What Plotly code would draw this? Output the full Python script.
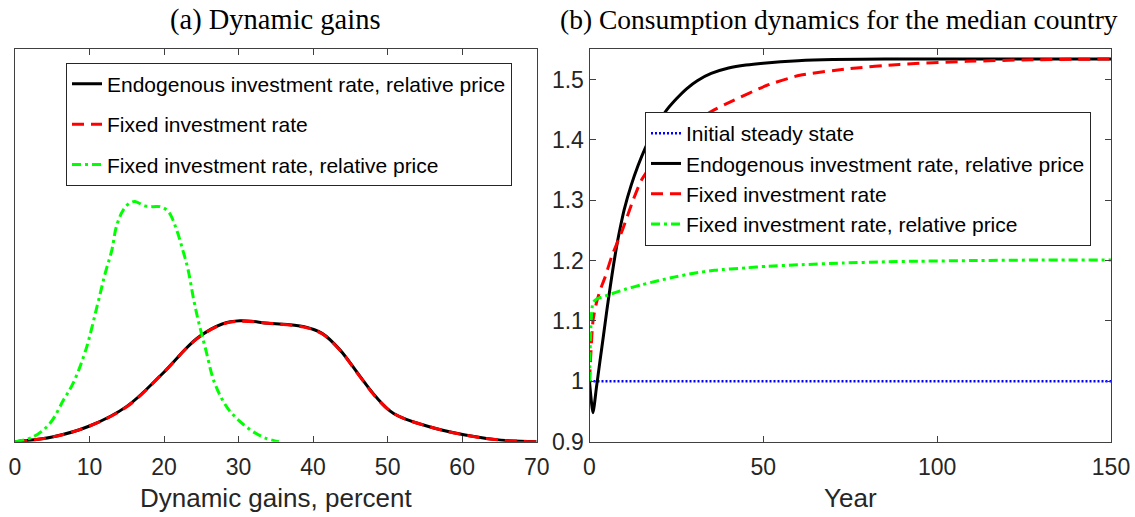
import plotly.graph_objects as go

# ---------------- Panel (a): densities of dynamic gains ----------------
gain_endog_x = [0, 5, 10, 15, 19.6, 24.4, 27.8, 30.2, 34.0, 38.8, 41.2, 43.6, 46.0, 48.4, 50.8, 55.6, 60.4, 65.2, 70]
gain_endog_y = [0, 0.0012, 0.0040, 0.0090, 0.0170, 0.0263, 0.0300, 0.0308, 0.0302, 0.0293, 0.0276, 0.0234, 0.0174, 0.0115, 0.0072, 0.0038, 0.0017, 0.0004, 0]

gain_fixed_x = [0, 5, 10, 15, 19.6, 24.4, 27.8, 30.2, 34.0, 38.8, 41.2, 43.6, 46.0, 48.4, 50.8, 55.6, 60.4, 65.2, 70]
gain_fixed_y = [0, 0.0012, 0.0040, 0.0089, 0.0170, 0.0262, 0.0299, 0.0307, 0.0302, 0.0292, 0.0275, 0.0233, 0.0173, 0.0114, 0.0072, 0.0038, 0.0017, 0.0004, 0]

gain_fixrp_x = [0, 2.5, 4.7, 6.5, 7.8, 9.5, 11.0, 12.1, 13.0, 13.6, 14.5, 15.3, 16.1, 17.4, 18.5, 19.5, 20.6, 21.7,
                22.5, 23.2, 24.0, 24.7, 25.6, 26.8, 28.7, 31.6, 33.5, 35.4]
gain_fixrp_y = [0, 0.0013, 0.0047, 0.0106, 0.0149, 0.0234, 0.0344, 0.0429, 0.0489, 0.0548, 0.0590, 0.0607, 0.0612,
                0.0601, 0.0599, 0.0599, 0.0586, 0.0539, 0.0489, 0.0440, 0.0360, 0.0300, 0.0234, 0.0149, 0.0081, 0.0030, 0.0010, 0]

# ---------------- Panel (b): consumption dynamics ----------------
ss_year = [0, 150]
ss_cons = [1.0, 1.0]

endog_year = [0, 1, 2, 3, 4, 5, 6, 7, 8, 9, 10, 12, 14, 16, 18, 20, 22, 25, 28, 31, 35, 40, 45, 50, 60, 70, 85, 150]
endog_cons = [1.0, 0.948, 0.99, 1.033, 1.075, 1.118, 1.158, 1.196, 1.23, 1.259, 1.285, 1.325, 1.358, 1.386, 1.410,
              1.430, 1.448, 1.468, 1.485, 1.498, 1.510, 1.519, 1.524, 1.527, 1.531, 1.533, 1.534, 1.534]

fixed_year = [0, 1, 2, 3, 4.5, 6.4, 9.5, 12.6, 15, 20, 25, 30, 35, 41.3, 50.9, 60.5, 74.9, 89.2, 108.4, 127.5, 150]
fixed_cons = [1.0, 1.10, 1.13, 1.15, 1.173, 1.207, 1.251, 1.301, 1.334, 1.375, 1.405, 1.428, 1.447, 1.465, 1.490,
              1.507, 1.518, 1.525, 1.530, 1.5327, 1.534]

fixrp_year = [0, 1, 2, 5.4, 10, 15, 20, 24.6, 30, 36, 45, 51, 60, 73, 85, 95, 110, 130, 150]
fixrp_cons = [1.0, 1.13, 1.136, 1.143, 1.152, 1.160, 1.167, 1.173, 1.179, 1.184, 1.188, 1.1906, 1.193, 1.196,
              1.198, 1.199, 1.200, 1.201, 1.201]

names = ["Endogenous investment rate, relative price", "Fixed investment rate",
         "Fixed investment rate, relative price"]

BLACK = "#000000"
RED = "#ff0000"
GREEN = "#00ff00"
BLUE = "#0000ff"
AX = "#404040"
TXT = "#262626"

fig = go.Figure()

fig.add_trace(go.Scatter(x=gain_endog_x, y=gain_endog_y, mode="lines", name=names[0],
                         line=dict(color=BLACK, width=3, shape="spline"),
                         xaxis="x", yaxis="y", legend="legend", legendgroup="a1"))
fig.add_trace(go.Scatter(x=gain_fixed_x, y=gain_fixed_y, mode="lines", name=names[1],
                         line=dict(color=RED, width=3, dash="12px,7px", shape="spline"),
                         xaxis="x", yaxis="y", legend="legend", legendgroup="a2"))
fig.add_trace(go.Scatter(x=gain_fixrp_x, y=gain_fixrp_y, mode="lines", name=names[2],
                         line=dict(color=GREEN, width=3, dash="9px,4px,3px,4px", shape="spline"),
                         xaxis="x", yaxis="y", legend="legend", legendgroup="a3"))

fig.add_trace(go.Scatter(x=ss_year, y=ss_cons, mode="lines", name="Initial steady state",
                         line=dict(color=BLUE, width=2.5, dash="2px,2px"),
                         xaxis="x2", yaxis="y2", legend="legend2"))
fig.add_trace(go.Scatter(x=endog_year, y=endog_cons, mode="lines", name=names[0],
                         line=dict(color=BLACK, width=3, shape="spline", smoothing=0.6),
                         xaxis="x2", yaxis="y2", legend="legend2"))
fig.add_trace(go.Scatter(x=fixed_year, y=fixed_cons, mode="lines", name=names[1],
                         line=dict(color=RED, width=3, dash="12px,7px", shape="spline", smoothing=0.6),
                         xaxis="x2", yaxis="y2", legend="legend2"))
fig.add_trace(go.Scatter(x=fixrp_year, y=fixrp_cons, mode="lines", name=names[2],
                         line=dict(color=GREEN, width=3, dash="9px,4px,3px,4px", shape="spline", smoothing=0.6),
                         xaxis="x2", yaxis="y2", legend="legend2"))

W, H = 1135, 517
ydom = [(H - 441.7) / H, (H - 49.3) / H]
tickfont = dict(family="Liberation Sans, Arial", size=23, color=TXT)
axis_common = dict(showline=True, linecolor=AX, linewidth=1, mirror="ticks", ticks="inside", ticklen=6,
                   tickcolor=AX, showgrid=False, zeroline=False, tickfont=tickfont)

fig.update_layout(
    width=W, height=H,
    margin=dict(l=0, r=0, t=0, b=0, autoexpand=False),
    paper_bgcolor="white", plot_bgcolor="white",
    xaxis=dict(domain=[15 / W, 536.7 / W], range=[0, 70], tickmode="linear", tick0=0, dtick=10,
               anchor="y", ticklabelstandoff=5, **axis_common),
    yaxis=dict(domain=ydom, range=[0, 0.1], anchor="x", showticklabels=False,
               showline=True, linecolor=AX, linewidth=1, mirror=True, ticks="", showgrid=False, zeroline=False),
    xaxis2=dict(domain=[589.5 / W, 1111 / W], range=[0, 150], tickmode="linear", tick0=0, dtick=50,
                anchor="y2", ticklabelstandoff=5, **axis_common),
    yaxis2=dict(domain=ydom, range=[0.9, 1.55], tickmode="linear", tick0=0.9, dtick=0.1,
                anchor="x2", **axis_common),
    legend=dict(x=66 / W, y=1 - 62.7 / H, xanchor="left", yanchor="top", bgcolor="white",
                bordercolor=TXT, borderwidth=1, tracegroupgap=10, traceorder="grouped",
                font=dict(family="Liberation Sans, Arial", size=21, color="#000000")),
    legend2=dict(x=645 / W, y=1 - 112 / H, xanchor="left", yanchor="top", bgcolor="white",
                 bordercolor=TXT, borderwidth=1, traceorder="normal",
                 font=dict(family="Liberation Sans, Arial", size=21, color="#000000")),
    showlegend=True,
)

title_font_a = dict(family="Liberation Serif, Times New Roman, serif", size=28.5, color="#000000")
title_font_b = dict(family="Liberation Serif, Times New Roman, serif", size=27.5, color="#000000")
axt_font = dict(family="Liberation Sans, Arial", size=26, color=TXT)
fig.add_annotation(x=(15 + 536.7) / 2 / W, y=1 - 20 / H, xref="paper", yref="paper", text="(a) Dynamic gains",
                   showarrow=False, font=title_font_a, xanchor="center", yanchor="middle")
fig.add_annotation(x=839 / W, y=1 - 20 / H, xref="paper", yref="paper",
                   text="(b) Consumption dynamics for the median country",
                   showarrow=False, font=title_font_b, xanchor="center", yanchor="middle")
fig.add_annotation(x=(15 + 536.7) / 2 / W, y=1 - 498 / H, xref="paper", yref="paper", text="Dynamic gains, percent",
                   showarrow=False, font=axt_font, xanchor="center", yanchor="middle")
fig.add_annotation(x=(589.5 + 1111) / 2 / W, y=1 - 498 / H, xref="paper", yref="paper", text="Year",
                   showarrow=False, font=axt_font, xanchor="center", yanchor="middle")

fig.write_html("out.html")
